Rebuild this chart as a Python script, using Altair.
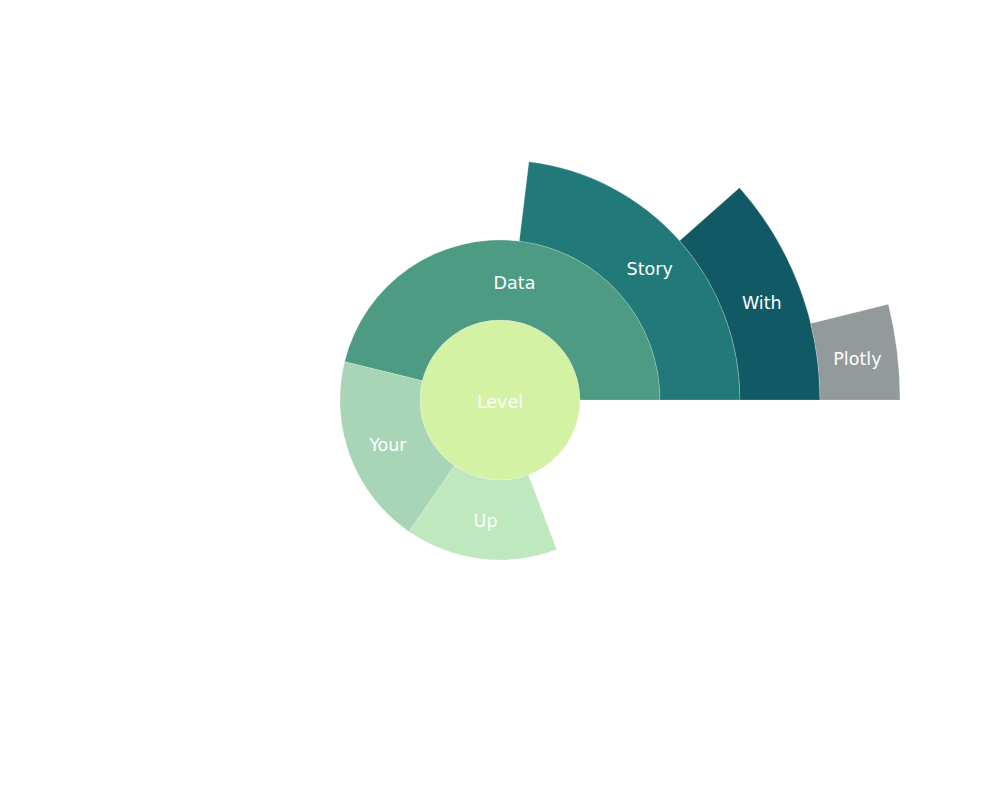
import math

import altair as alt
import pandas as pd

# sunburst chain: Level -> Data/Your/Up, Data -> Story -> With -> Plotly
labels = ["Level", "Data", "Your", "Up", "Story", "With", "Plotly"]
parents = ["", "Level", "Level", "Level", "Data", "Story", "With"]
values = [26, 12, 5, 4, 6, 3, 1]
colors = ["#d3f2a3", "#4c9b82", "#a7d5b6", "#bfe8bf", "#217a79", "#105965", "#929a9c"]


def build_frame() -> pd.DataFrame:
    rows = []
    depth = {}
    cursor = {}
    for label, parent, value, color in zip(labels, parents, values, colors):
        if parent == "":
            depth[label] = 0
            start = 0
        else:
            depth[label] = depth[parent] + 1
            start = cursor.get(parent, rows[labels.index(parent)]["start"])
            cursor[parent] = start + value
        end = start + value
        rows.append(
            {
                "label": label,
                "start": start,
                "end": end,
                "mid": (start + end) / 2,
                "r0": depth[label],
                "r1": depth[label] + 1,
                "rmid": 0 if depth[label] == 0 else depth[label] + 0.5,
                "color": color,
            }
        )
    return pd.DataFrame(rows)


frame = build_frame()

theta_scale = alt.Scale(domain=[0, values[0]], range=[2.5 * math.pi, 0.5 * math.pi])
radius_scale = alt.Scale(type="linear", domain=[0, 5], range=[0, 400], zero=True)

base = alt.Chart(frame).encode(x=alt.value(492), y=alt.value(392))

arcs = base.mark_arc(stroke="white", strokeWidth=0.2).encode(
    theta=alt.Theta("start:Q", scale=theta_scale),
    theta2="end:Q",
    radius=alt.Radius("r0:Q", scale=radius_scale),
    radius2="r1:Q",
    color=alt.Color("color:N", scale=None),
)

text = base.mark_text(
    font="DejaVu Sans", fontSize=17.5, color="white", baseline="middle", align="center", dy=3
).encode(
    theta=alt.Theta("mid:Q", scale=theta_scale),
    radius=alt.Radius("rmid:Q", scale=radius_scale),
    text="label:N",
)

chart = (
    alt.layer(arcs, text)
    .properties(width=984, height=700, padding=0, autosize=alt.AutoSizeParams(type="none"))
    .configure_view(stroke=None)
)

chart.save("out.html", embed_options={"renderer": "svg", "actions": False})
